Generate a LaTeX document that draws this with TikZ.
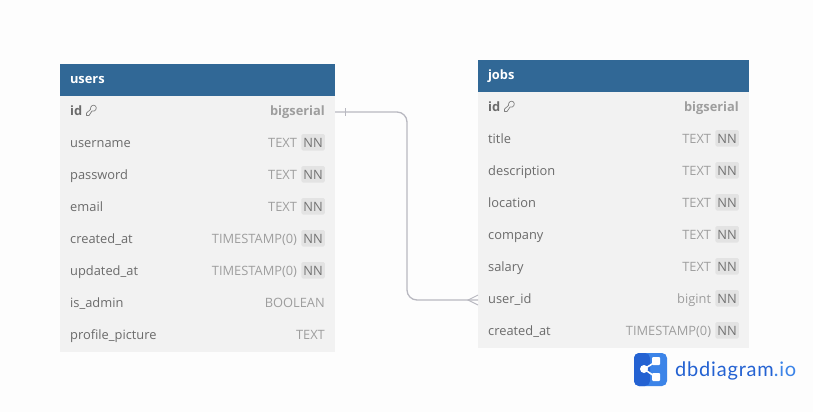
\documentclass[tikz,border=0pt]{standalone}
\usepackage{fontspec}
\setmainfont{Open Sans}
\newfontfamily\logofont{Lato}
\usetikzlibrary{arrows.meta, positioning, calc}

\definecolor{headblue}{HTML}{316896}
\definecolor{rowgray}{HTML}{F2F2F2}
\definecolor{pagegray}{HTML}{FDFDFD}
\definecolor{linkgray}{HTML}{B8B8C0}
\definecolor{logodark}{HTML}{2462D2}
\definecolor{logolight}{HTML}{3C84E8}

\newcommand{\tablefont}{\fontsize{12.85}{15}\selectfont}

\begin{document}
\begin{tikzpicture}[
  x=1pt, y=-1pt,
  tablehead/.style={
    fill=headblue, text=white, font=\tablefont\bfseries,
    minimum height=32pt, inner ysep=0pt, inner xsep=10pt, outer sep=0pt,
    align=left, text height=9.5pt, text depth=3pt
  },
  tablerow/.style={
    fill=rowgray, minimum height=32pt, inner sep=0pt, outer sep=0pt
  },
  fieldname/.style={
    anchor=base west, inner sep=0pt, font=\tablefont, text=black!58
  },
  fieldtype/.style={
    anchor=base east, inner sep=0pt, font=\tablefont, text=black!38
  },
  nnbox/.style={
    anchor=base east, fill=black!11, rounded corners=1.5pt, text=black!55,
    font=\tablefont, inner xsep=2pt, inner ysep=3pt,
    text height=10.5pt, text depth=0pt
  },
  relation/.style={draw=linkgray, line width=1.3pt},
  keyicon/.pic={
    \draw[black!50, line width=0.7pt, line join=round]
      (-4.5,5.5) -- (-4.5,3) -- (-0.5,-0.5)
      .. controls (-1.2,-4) and (2.5,-6) .. (4.5,-4)
      .. controls (6.5,-2) and (4.5,2) .. (1,1)
      -- (-2,5.5) -- cycle;
  },
]

\useasboundingbox[fill=pagegray] (0,0) rectangle (813,412);

%%% Table users
\node[tablehead, text width=255pt, anchor=north west] (users) at (60,64)
  {users};
\node[tablerow, minimum width=275pt, below=0pt of users] (users1) {};
\node[fieldname, font=\tablefont\bfseries] (usersname1)
  at ([xshift=10pt, yshift=-3.5pt]users1.west) {id};
\pic at (91,110) {keyicon};
\node[fieldtype, font=\tablefont\bfseries] (userstype1)
  at ([xshift=-10pt, yshift=-3.5pt]users1.east) {bigserial};

\foreach \fname/\ftype [count=\i from 2, remember=\i as \prev (initially 1)] in
  {username/TEXT, password/TEXT, email/TEXT,
   created\_at/TIMESTAMP(0), updated\_at/TIMESTAMP(0)} {
  \node[tablerow, minimum width=275pt, below=0pt of users\prev] (users\i) {};
  \node[fieldname] (usersname\i) at ([xshift=10pt, yshift=-3.5pt]users\i.west) {\fname};
  \node[nnbox] (usersnn\i) at ([xshift=-10pt, yshift=-3.5pt]users\i.east) {NN};
  \node[fieldtype] (userstype\i) at ([xshift=-4pt]usersnn\i.base west) {\ftype};
}
\foreach \fname/\ftype [count=\i from 7, remember=\i as \prev (initially 6)] in
  {is\_admin/BOOLEAN, profile\_picture/TEXT} {
  \node[tablerow, minimum width=275pt, below=0pt of users\prev] (users\i) {};
  \node[fieldname] (usersname\i) at ([xshift=10pt, yshift=-3.5pt]users\i.west) {\fname};
  \node[fieldtype] (userstype\i) at ([xshift=-10pt, yshift=-3.5pt]users\i.east) {\ftype};
}

%%% Table jobs
\node[tablehead, text width=251pt, anchor=north west] (jobs) at (478,60)
  {jobs};
\node[tablerow, minimum width=271pt, below=0pt of jobs] (jobs1) {};
\node[fieldname, font=\tablefont\bfseries] (jobsname1)
  at ([xshift=10pt, yshift=-3.5pt]jobs1.west) {id};
\pic at (509,106) {keyicon};
\node[fieldtype, font=\tablefont\bfseries] (jobstype1)
  at ([xshift=-10pt, yshift=-3.5pt]jobs1.east) {bigserial};

\foreach \fname/\ftype [count=\i from 2, remember=\i as \prev (initially 1)] in
  {title/TEXT, description/TEXT, location/TEXT, company/TEXT, salary/TEXT,
   user\_id/bigint, created\_at/TIMESTAMP(0)} {
  \node[tablerow, minimum width=271pt, below=0pt of jobs\prev] (jobs\i) {};
  \node[fieldname] (jobsname\i) at ([xshift=10pt, yshift=-3.5pt]jobs\i.west) {\fname};
  \node[nnbox] (jobsnn\i) at ([xshift=-10pt, yshift=-3.5pt]jobs\i.east) {NN};
  \node[fieldtype] (jobstype\i) at ([xshift=-4pt]jobsnn\i.base west) {\ftype};
}

%%% Relation users.id -- jobs.user_id
\coordinate (linkbend) at (407,206);
\draw[relation, rounded corners=10pt]
  (users1.east) -| (linkbend) |- (jobs7.west);
\draw[relation, line width=0.9pt]
  ([xshift=10pt, yshift=4pt]users1.east) -- ([xshift=10pt, yshift=-4pt]users1.east);
\draw[relation, line width=0.9pt]
  ([yshift=5pt]jobs7.west) -- ([xshift=-10pt]jobs7.west) -- ([yshift=-5pt]jobs7.west);

%%% Logo
\fill[logolight, rounded corners=5pt] (634,353) rectangle (667,386);
\fill[logodark, rounded corners=5pt] (634,353) -- (650,353) -- (650,386)
  -- (634,386) -- cycle;
\draw[white, line width=1.6pt] (644,369) -- (657,361) (644,369) -- (657,378);
\fill[white] (644,369) circle (4pt);
\fill[white, rounded corners=1pt] (652,357) rectangle (660,365);
\fill[white, rounded corners=1pt] (652,373) rectangle (660,381);
\node[anchor=base west, inner sep=0pt, font=\logofont\fontsize{20}{22}\selectfont,
  text=logodark] (logotext) at (675,376.5)
  {\addfontfeature{LetterSpace=4}dbdiagram\textcolor{logolight}{.io}};

\end{tikzpicture}
\end{document}
